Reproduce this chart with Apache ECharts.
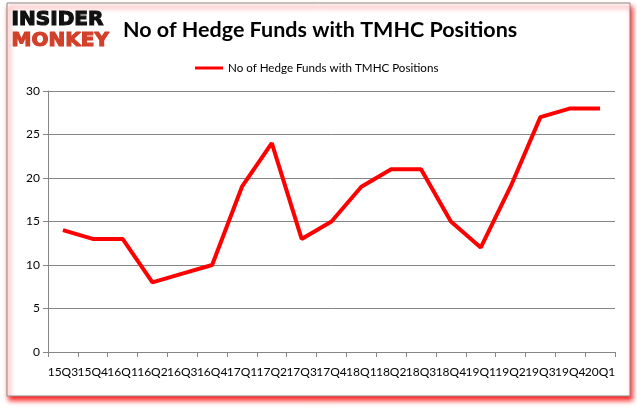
<!DOCTYPE html>
<html><head><meta charset="utf-8">
<script src="https://cdn.jsdelivr.net/npm/echarts@6/dist/echarts.min.js"></script>
<style>html,body{margin:0;padding:0;background:#fff;}#c{width:637px;height:408px;}</style>
</head><body><div id="c"></div>
<script>
const categories = ['15Q3','15Q4','16Q1','16Q2','16Q3','16Q4','17Q1','17Q2','17Q3','17Q4','18Q1','18Q2','18Q3','18Q4','19Q1','19Q2','19Q3','19Q4','20Q1'];
const funds = [14,13,13,8,9,10,19,24,13,15,19,21,21,15,12,19,27,28,28];
const seriesName = 'No of Hedge Funds with TMHC Positions';
const titleText = 'No of Hedge Funds with TMHC Positions';

const chart = echarts.init(document.getElementById('c'), null, {renderer:'canvas'});
const font = 'Lato, "Open Sans", sans-serif';
chart.setOption({
  animation:false,
  backgroundColor:'#fff',
  graphic:[
    {type:'rect', z:-10, shape:{x:7,y:3,width:623,height:393},
     style:{fill:'#fff', stroke:'#8c8c8c', lineWidth:1, shadowColor:'rgba(255,0,0,0.9)', shadowBlur:5, shadowOffsetX:2, shadowOffsetY:4}},
    {type:'text', left:11, top:9, z:10, style:{text:'INSIDER', fill:'#111', stroke:'#111', lineWidth:1.2, font:'bold 20px "DejaVu Sans"'}},
    {type:'text', left:11, top:30, z:10, style:{text:'MONKEY', fill:'#d2402a', stroke:'#d2402a', lineWidth:1.2, font:'bold 20px "DejaVu Sans"'}}
  ],
  title:{text:titleText, left:118, top:14, textStyle:{fontFamily:font, fontSize:21.5, fontWeight:'bold', color:'#000'}},
  legend:{data:[seriesName], top:57, left:190, itemWidth:28, itemHeight:3, itemGap:4, icon:'rect',
    textStyle:{fontFamily:font, fontSize:11.6, color:'#000'}},
  grid:{left:48, right:22, top:91, bottom:56, containLabel:false},
  xAxis:{type:'category', data:categories, boundaryGap:true,
    axisLine:{lineStyle:{color:'#868686'}},
    axisTick:{show:true, alignWithLabel:false, length:5, lineStyle:{color:'#868686'}},
    axisLabel:{interval:0, color:'#000', fontFamily:font, fontSize:12, margin:14}},
  yAxis:{type:'value', min:0, max:30, interval:5,
    axisLine:{show:true, lineStyle:{color:'#868686'}},
    axisTick:{show:true, length:5, lineStyle:{color:'#868686'}},
    splitLine:{lineStyle:{color:'#868686'}},
    axisLabel:{color:'#000', fontFamily:font, fontSize:12, margin:8}},
  series:[{name:seriesName, type:'line', data:funds, symbol:'none', lineStyle:{color:'#ff0000', width:4}, itemStyle:{color:'#ff0000'}}]
});
</script></body></html>
